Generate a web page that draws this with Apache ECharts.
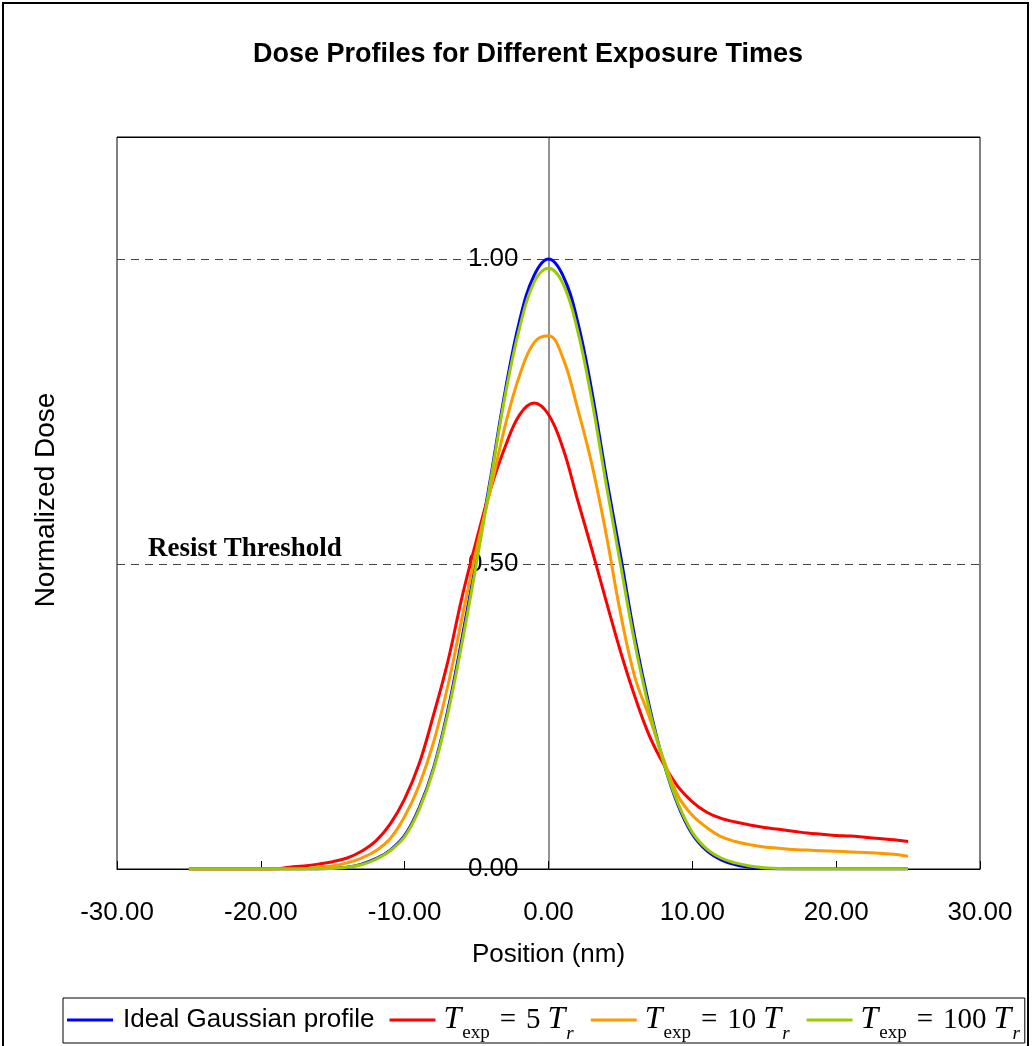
<!DOCTYPE html>
<html>
<head>
<meta charset="utf-8">
<title>Dose Profiles for Different Exposure Times</title>
<script src="https://cdn.jsdelivr.net/npm/echarts@6/dist/echarts.min.js"></script>
<style>
  html, body { margin: 0; padding: 0; background: #fff; }
  #chart { width: 1032px; height: 1046px; }
</style>
</head>
<body>
<div id="chart"></div>
<script>
// position (nm)
const positions = [-25, -24, -23, -22, -21, -20, -19, -18, -17, -16, -15, -14, -13, -12, -11, -10, -9, -8, -7, -6, -5, -4, -3, -2, -1,
  0, 1, 2, 3, 4, 5, 6, 7, 8, 9, 10, 11, 12, 13, 14, 15, 16, 17, 18, 19, 20, 21, 22, 23, 24, 25];

const idealGaussian = [0, 0, 0, 0, 0, 0, 0, 0, 0, 0,
  0.001, 0.003, 0.008, 0.017, 0.031, 0.055, 0.1, 0.165, 0.26, 0.38, 0.51, 0.645, 0.785, 0.9, 0.973,
  1.0,
  0.973, 0.9, 0.785, 0.645, 0.515, 0.38, 0.268, 0.175, 0.105, 0.057, 0.03, 0.015, 0.007, 0.003, 0.001,
  0, 0, 0, 0, 0, 0, 0, 0, 0, 0];

const exp5 = [0, 0, 0, 0, 0, 0, 0,
  0.003, 0.005, 0.008, 0.012, 0.018, 0.029, 0.046, 0.074, 0.115, 0.172, 0.252, 0.34, 0.447, 0.54, 0.625, 0.693, 0.745, 0.764,
  0.745,
  0.69, 0.607, 0.525, 0.44, 0.357, 0.283, 0.219, 0.172, 0.135, 0.11, 0.093, 0.083, 0.077, 0.072, 0.068,
  0.065, 0.062, 0.059, 0.057, 0.055, 0.054, 0.052, 0.05, 0.048, 0.045];

const exp10 = [0, 0, 0, 0, 0, 0, 0, 0, 0,
  0.003, 0.005, 0.01, 0.018, 0.03, 0.05, 0.086, 0.137, 0.207, 0.3, 0.413, 0.525, 0.625, 0.728, 0.81, 0.863,
  0.874,
  0.838, 0.757, 0.665, 0.55, 0.42, 0.315, 0.25, 0.18, 0.12, 0.088, 0.068, 0.053, 0.045, 0.04, 0.036,
  0.034, 0.032, 0.031, 0.03, 0.029, 0.028, 0.027, 0.026, 0.024, 0.021];

const exp100 = [0, 0, 0, 0, 0, 0, 0, 0, 0, 0,
  0.001, 0.003, 0.007, 0.016, 0.03, 0.053, 0.097, 0.162, 0.255, 0.372, 0.502, 0.64, 0.778, 0.888, 0.962,
  0.985,
  0.96, 0.885, 0.77, 0.632, 0.5, 0.37, 0.262, 0.175, 0.108, 0.06, 0.033, 0.018, 0.01, 0.005, 0.002,
  0.001, 0, 0, 0, 0, 0, 0, 0, 0, 0];

const seriesNames = ['Ideal Gaussian profile', 'Texp = 5 Tr', 'Texp = 10 Tr', 'Texp = 100 Tr'];
const seriesColors = ['#0000ff', '#ff0000', '#ff9900', '#99cc00'];
const seriesValues = [idealGaussian, exp5, exp10, exp100];

// legend labels, T_exp = n T_r written with rich text
const legendLabels = {
    'Ideal Gaussian profile': '{g|Ideal Gaussian profile}',
    'Texp = 5 Tr': '{T0|T}{sub|exp}{op|=}{num|5}{T|T}{subI|r}',
    'Texp = 10 Tr': '{T0|T}{sub|exp}{op|=}{num|10}{T|T}{subI|r}',
    'Texp = 100 Tr': '{T0|T}{sub|exp}{op|=}{num|100}{T|T}{subI|r}'
};

const chart = echarts.init(document.getElementById('chart'));

const mathT = {
    fontFamily: 'Liberation Serif',
    fontStyle: 'italic',
    fontSize: 32,
    color: '#000',
    lineHeight: 44
};
const mathSub = {
    fontFamily: 'Liberation Serif',
    fontSize: 19,
    color: '#000',
    verticalAlign: 'top',
    lineHeight: 17,
    padding: [26, 2, 0, 1]
};

const option = {
    animation: false,
    title: {
        text: 'Dose Profiles for Different Exposure Times',
        left: 523,
        top: 36,
        textAlign: 'center',
        textStyle: {
            fontFamily: 'Liberation Sans',
            fontWeight: 'bold',
            fontSize: 27,
            color: '#000'
        }
    },
    legend: {
        left: 63,
        top: 998,
        width: 1000,
        padding: [0, 3, 0, 4],
        borderColor: '#000',
        borderWidth: 1,
        icon: 'rect',
        itemWidth: 46,
        itemHeight: 3,
        itemGap: 15,
        formatter: name => legendLabels[name],
        textStyle: {
            fontFamily: 'Liberation Sans',
            fontSize: 26,
            color: '#000',
            rich: {
                g: { fontFamily: 'Liberation Sans', fontSize: 26, color: '#000', padding: [0, 0, 0, 5] },
                T0: Object.assign({}, mathT, { padding: [0, 0, 0, 3] }),
                T: mathT,
                sub: mathSub,
                subI: Object.assign({}, mathSub, { fontStyle: 'italic' }),
                op: {
                    fontFamily: 'Liberation Serif',
                    fontSize: 29,
                    color: '#000',
                    padding: [0, 10, 0, 8]
                },
                num: {
                    fontFamily: 'Liberation Serif',
                    fontSize: 29,
                    color: '#000',
                    padding: [0, 7, 0, 0]
                }
            }
        }
    },
    grid: {
        left: 117,
        right: 52,
        top: 137,
        bottom: 177,
        show: true,
        borderColor: '#000',
        borderWidth: 1
    },
    xAxis: {
        type: 'value',
        min: -30,
        max: 30,
        interval: 10,
        name: 'Position (nm)',
        nameLocation: 'middle',
        nameGap: 73,
        nameTextStyle: { fontFamily: 'Liberation Sans', fontSize: 26, color: '#000' },
        axisLine: { lineStyle: { color: '#000', width: 1 } },
        axisTick: { inside: true, length: 8, lineStyle: { color: '#000' } },
        axisLabel: {
            margin: 31,
            fontFamily: 'Liberation Sans',
            fontSize: 26,
            color: '#000',
            formatter: v => v.toFixed(2)
        },
        splitLine: { show: false }
    },
    yAxis: {
        type: 'value',
        min: 0,
        max: 1.2,
        interval: 0.5,
        // axis drawn through position 0
        offset: -431.5,
        axisLine: { onZero: false, lineStyle: { color: '#707070', width: 1.5 } },
        axisTick: { show: false },
        axisLabel: {
            margin: 30,
            fontFamily: 'Liberation Sans',
            fontSize: 26,
            color: '#000',
            showMaxLabel: false,
            formatter: v => (v > 1.1 ? '' : v.toFixed(2))
        },
        splitLine: {
            show: true,
            lineStyle: { color: '#444', type: [8, 6], width: 1 }
        }
    },
    graphic: [
        {
            type: 'rect',
            silent: true,
            shape: { x: 3, y: 3, width: 1025, height: 1100 },
            style: { fill: null, stroke: '#000', lineWidth: 2 }
        },
        {
            type: 'line',
            silent: true,
            z: 100,
            shape: { x1: 117, y1: 137.5, x2: 980, y2: 137.5 },
            style: { stroke: '#000', lineWidth: 1 }
        },
        {
            type: 'text',
            silent: true,
            x: 46,
            y: 500,
            rotation: Math.PI / 2,
            style: {
                text: 'Normalized Dose',
                font: '28px "Liberation Sans"',
                fill: '#000',
                align: 'center',
                verticalAlign: 'middle'
            }
        },
        {
            type: 'text',
            silent: true,
            x: 148,
            y: 549,
            style: {
                text: 'Resist Threshold',
                font: 'bold 27px "Liberation Serif"',
                fill: '#000',
                align: 'left',
                verticalAlign: 'middle'
            }
        }
    ],
    series: seriesNames.map((name, i) => ({
        name: name,
        type: 'line',
        data: positions.map((x, j) => [x, seriesValues[i][j]]),
        smooth: 0.4,
        showSymbol: false,
        symbol: 'none',
        color: seriesColors[i],
        lineStyle: { width: 3, color: seriesColors[i] }
    }))
};

chart.setOption(option);
</script>
</body>
</html>
